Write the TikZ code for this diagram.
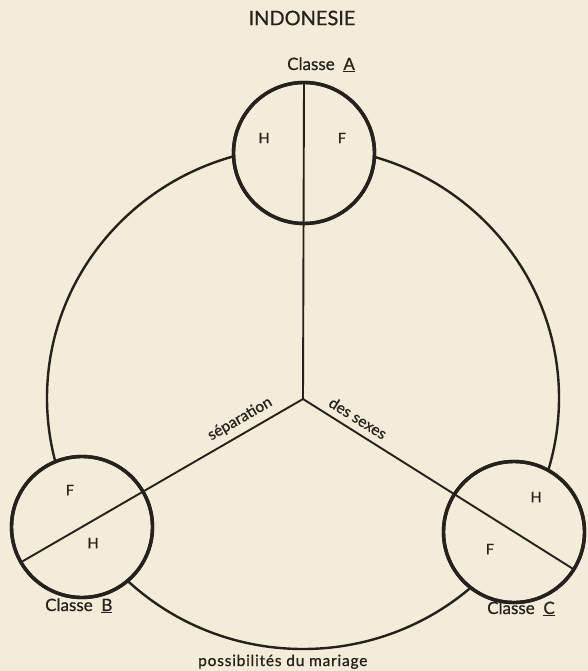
\documentclass[tikz,border=0pt]{standalone}
\usepackage{fontspec}
\setmainfont{Lato}[FakeBold=0.7]
\newfontfamily\spaced{Lato}[FakeBold=0.7, LetterSpace=5]
\definecolor{bg}{RGB}{242,237,216}
\definecolor{ink}{RGB}{38,33,28}
\begin{document}
\begin{tikzpicture}[x=1pt,y=-1pt,
  smallc/.style={circle, minimum size=141pt, inner sep=0pt, outer sep=0pt, line width=3.4pt, draw=ink, fill=bg},
  bigline/.style={line width=2.4pt, draw=ink},
  radial/.style={line width=1.9pt, draw=ink},
  lbl/.style={text=ink, inner sep=0pt, font=\fontsize{14.5}{16}\selectfont},
  cls/.style={text=ink, inner sep=0pt, anchor=base west, font=\fontsize{17}{19}\selectfont},
  title/.style={text=ink, inner sep=0pt, font=\fontsize{20}{22}\selectfont}]
\fill[bg] (0,0) rectangle (588,671);
\useasboundingbox (0,0) rectangle (588,671);
\coordinate (O) at (303,399);
\coordinate (E) at (303,398);
% big circle of marriage possibilities
\draw[bigline] (E) ellipse (256pt and 251pt);
% class circles
\node[smallc] (A) at (304,153) {};
\node[smallc] (B) at (82,527) {};
\node[smallc] (C) at (514,532) {};
% separation lines
\draw[radial] (O) -- (A.north);
\draw[radial] (O) -- (B.210);
\draw[radial] (O) -- (C.-32);
% redraw circle outlines on top
\draw[line width=3.4pt, ink] (A.center) circle (70.5pt);
\draw[line width=3.4pt, ink] (B.center) circle (70.5pt);
\draw[line width=3.4pt, ink] (C.center) circle (70.5pt);
% labels
\node[title] (t) at (302,18) {INDONESIE};
\node[cls] (ca) at (287,70) {Classe\ \ \underline{A}};
\node[cls] (cb) at (45,611) {Classe\ \ \underline{B}};
\node[cls] (cc) at (487,614) {Classe\ \ \underline{C}};
\node[lbl] (ah) at (264,138) {H};
\node[lbl] (af) at (342,138) {F};
\node[lbl] (bf) at (70,490) {F};
\node[lbl] (bh) at (93,543) {H};
\node[lbl] (ch) at (536,497) {H};
\node[lbl] (cf) at (490,549) {F};
\node[lbl, rotate=30, font=\fontsize{15.5}{17}\selectfont] (sep) at (240,419) {séparation};
\node[lbl, rotate=-32, font=\fontsize{15.5}{17}\selectfont] (sex) at (358,418) {des sexes};
\node[lbl, anchor=base west, font=\spaced\fontsize{15.5}{17}\selectfont] (pm) at (198,666) {possibilités du mariage};
\end{tikzpicture}
\end{document}
